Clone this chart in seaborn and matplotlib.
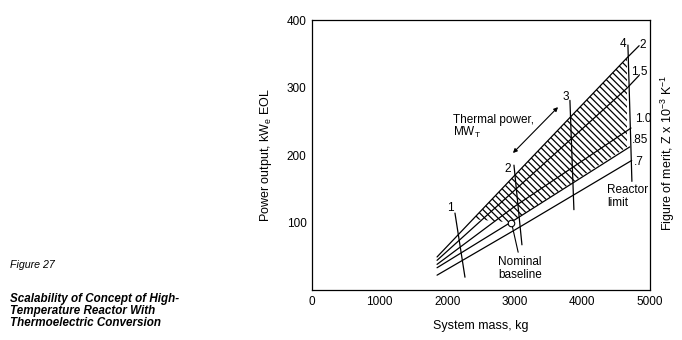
import matplotlib
matplotlib.use("Agg")
import matplotlib.pyplot as plt
import seaborn as sns
import pandas as pd

# Figure-of-merit curves (Z x 1e-3 /K): system mass (kg) vs electric power (kWe EOL)
fom_labels = ["2", "1.5", "1.0", ".85", ".7"]
fom_2_mass = [1850, 3000, 4660, 4840]
fom_2_power = [49, 170, 344, 362]
fom_15_mass = [1850, 3000, 4660, 4840]
fom_15_power = [44, 148, 299, 318]
fom_10_mass = [1850, 3000, 4720]
fom_10_power = [38, 124, 240]
fom_085_mass = [1850, 3000, 4700]
fom_085_power = [33, 104, 212]
fom_07_mass = [1850, 3000, 4730]
fom_07_power = [22, 89, 192]

# Thermal power lines (MWt)
mwt_labels = ["1", "2", "3", "4"]
mwt_1_mass = [2115, 2263]
mwt_1_power = [114, 19]
mwt_2_mass = [2988, 3106]
mwt_2_power = [185, 67]
mwt_3_mass = [3816, 3875]
mwt_3_power = [281, 119]
mwt_4_mass = [4674, 4733]
mwt_4_power = [363, 161]

# Feasible design region (hatched)
region_mass = [2381, 3000, 4660, 4660, 3000, 2950]
region_power = [105, 170, 344, 212, 104, 100]

# Nominal baseline design point
baseline_mass = [2950]
baseline_power = [100]

x_ticks = [0, 1000, 2000, 3000, 4000, 5000]
y_ticks = [100, 200, 300, 400]

sns.set_style("white")
plt.rcParams["font.family"] = ["Liberation Sans", "DejaVu Sans"]
plt.rcParams["mathtext.default"] = "regular"
plt.rcParams["text.color"] = "black"
plt.rcParams["axes.labelcolor"] = "black"
plt.rcParams["xtick.color"] = "black"
plt.rcParams["ytick.color"] = "black"
plt.rcParams["hatch.linewidth"] = 0.9

fig = plt.figure(figsize=(6.82, 3.40), dpi=100)
ax = fig.add_axes([0.4575, 0.147, 0.4955, 0.794])

fom_frames = []
for lab, m, p in zip(fom_labels,
                     [fom_2_mass, fom_15_mass, fom_10_mass, fom_085_mass, fom_07_mass],
                     [fom_2_power, fom_15_power, fom_10_power, fom_085_power, fom_07_power]):
    fom_frames.append(pd.DataFrame({"mass": m, "power": p, "Z": lab}))
fom_df = pd.concat(fom_frames, ignore_index=True)

mwt_frames = []
for lab, m, p in zip(mwt_labels,
                     [mwt_1_mass, mwt_2_mass, mwt_3_mass, mwt_4_mass],
                     [mwt_1_power, mwt_2_power, mwt_3_power, mwt_4_power]):
    mwt_frames.append(pd.DataFrame({"mass": m, "power": p, "MWt": lab}))
mwt_df = pd.concat(mwt_frames, ignore_index=True)

# hatched feasible region
ax.fill(region_mass, region_power, facecolor="white", edgecolor="black",
        hatch="\\\\\\\\\\", linewidth=0.0, zorder=1)

sns.lineplot(data=fom_df, x="mass", y="power", hue="Z", units="Z", estimator=None,
             palette=["black"] * 5, linewidth=0.9, legend=False, ax=ax, sort=False, zorder=3)
sns.lineplot(data=mwt_df, x="mass", y="power", hue="MWt", units="MWt", estimator=None,
             palette=["black"] * 4, linewidth=0.9, legend=False, ax=ax, sort=False, zorder=3)

sns.scatterplot(x=baseline_mass, y=baseline_power, ax=ax, s=22, marker="o",
                facecolor="white", edgecolor="black", linewidth=0.8, zorder=4)

# curve labels
fs = 8.5
ax.text(4851, 363, "2", fontsize=fs, ha="left", va="center")
ax.text(4718, 323, "1.5", fontsize=fs, ha="left", va="center")
ax.text(4777, 253, "1.0", fontsize=fs, ha="left", va="center")
ax.text(4733, 222, ".85", fontsize=fs, ha="left", va="center")
ax.text(4762, 190, ".7", fontsize=fs, ha="left", va="center")

ax.text(4600, 364, "4", fontsize=fs, ha="center", va="center")
ax.text(3757, 286, "3", fontsize=fs, ha="center", va="center")
ax.text(2900, 180, "2", fontsize=fs, ha="center", va="center")
ax.text(2040, 121, "1", fontsize=fs, ha="center", va="center")

ax.text(2085, 252, "Thermal power,", fontsize=8.5, ha="left", va="center")
ax.text(2085, 234, "MW$_T$", fontsize=8.5, ha="left", va="center")
ax.annotate("", xy=(2973, 203), xytext=(3640, 271),
            arrowprops=dict(arrowstyle="<|-|>", color="black", lw=0.8,
                            mutation_scale=6, shrinkA=0, shrinkB=0))

ax.plot([2960, 3050], [96, 56], color="black", lw=0.8, zorder=3)
ax.text(2751, 41, "Nominal", fontsize=8.5, ha="left", va="center")
ax.text(2751, 22, "baseline", fontsize=8.5, ha="left", va="center")

ax.text(4363, 148, "Reactor", fontsize=8.5, ha="left", va="center")
ax.text(4363, 129, "limit", fontsize=8.5, ha="left", va="center")

ax.set_xlim(0, 5000)
ax.set_ylim(0, 400)
ax.set_xticks(x_ticks)
ax.set_xticklabels([str(v) for v in x_ticks], fontsize=8.5)
ax.set_yticks(y_ticks)
ax.set_yticklabels([str(v) for v in y_ticks], fontsize=8.5)
ax.tick_params(direction="in", length=3, width=0.8, color="black", pad=4)
for s in ax.spines.values():
    s.set_visible(True)
    s.set_color("black")
    s.set_linewidth(0.9)
ax.set_xlabel("System mass, kg", fontsize=9, labelpad=9)
ax.set_ylabel("Power output, kW$_e$ EOL", fontsize=9, labelpad=9)

fig.text(0.9795, 0.55, "Figure of merit, Z x 10$^{-3}$ K$^{-1}$", rotation=90,
         fontsize=9, ha="center", va="center")

fig.text(0.015, 0.221, "Figure 27", fontsize=7.7, style="italic", ha="left", va="center")
fig.text(0.015, 0.085, "Scalability of Concept of High-\nTemperature Reactor With\nThermoelectric Conversion",
         fontsize=8.4, style="italic", weight="bold", ha="left", va="center", linespacing=0.98)

fig.savefig("out.png", dpi=100, facecolor="white")
